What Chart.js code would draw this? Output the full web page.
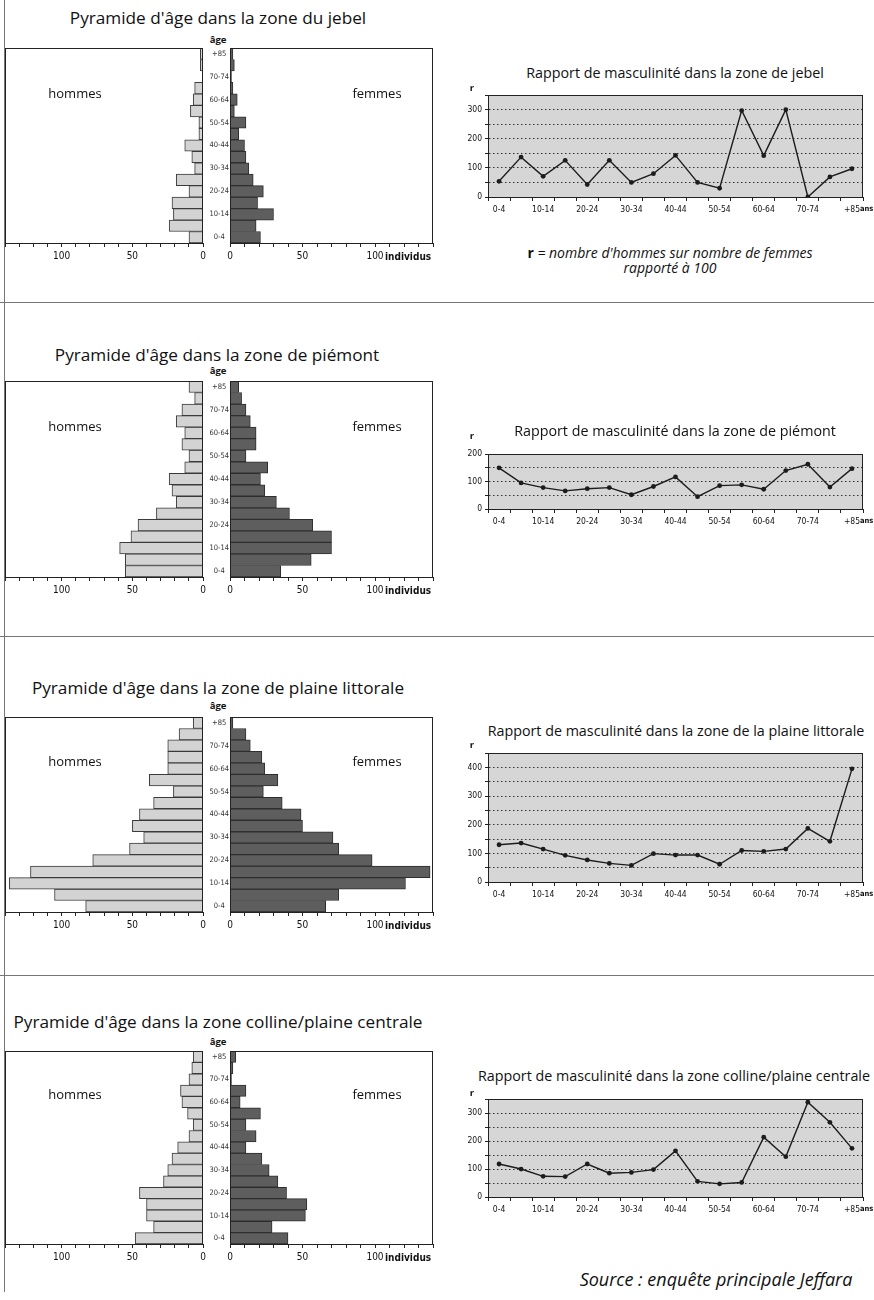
<!DOCTYPE html>
<html>
<head>
<meta charset="utf-8">
<script src="https://cdn.jsdelivr.net/npm/chart.js@4.4.1/dist/chart.umd.min.js"></script>
<style>
  body { margin: 0; background: #fff; }
  #page { position: relative; width: 874px; height: 1300px; overflow: hidden; font-family: 'Open Sans', 'Noto Sans', sans-serif; color: #111; }
  #page canvas { position: absolute; }
  .t { position: absolute; white-space: nowrap; line-height: 1; transform: translate(-50%, -50%); }
  .rule { position: absolute; background: #777; }
</style>
</head>
<body>
<div id="page"></div>
<script>
'use strict';

// tranches d'âge (de bas en haut)
var ages = ['0-4', '5-9', '10-14', '15-19', '20-24', '25-29', '30-34', '35-39', '40-44',
            '45-49', '50-54', '55-59', '60-64', '65-69', '70-74', '75-79', '+85'];

// zone du jebel
var jebelHommes  = [10, 24, 21, 22, 10, 19, 6, 8, 13, 3, 3, 9, 7, 6, 0, 2, 2];
var jebelFemmes  = [21, 18, 30, 19, 23, 16, 13, 11, 10, 6, 11, 3, 5, 2, 1, 3, 2];
var jebelRapport = [54, 137, 71, 126, 43, 126, 50, 80, 143, 50, 30, 297, 142, 300, 0, 69, 97];

// zone de piémont
var piemontHommes  = [55, 55, 59, 51, 46, 33, 19, 22, 24, 13, 10, 15, 13, 19, 15, 6, 10];
var piemontFemmes  = [35, 56, 70, 70, 57, 41, 32, 24, 21, 26, 11, 18, 18, 14, 11, 8, 6];
var piemontRapport = [150, 95, 78, 66, 74, 78, 52, 82, 117, 45, 85, 88, 72, 140, 163, 80, 147];

// plaine littorale
var littoralHommes  = [83, 105, 137, 122, 78, 52, 42, 50, 45, 35, 21, 38, 25, 25, 25, 17, 7];
var littoralFemmes  = [66, 75, 121, 138, 98, 75, 71, 50, 49, 36, 23, 33, 24, 22, 14, 11, 2];
var littoralRapport = [130, 136, 115, 93, 77, 65, 58, 99, 94, 94, 62, 110, 107, 115, 187, 142, 395];

// colline / plaine centrale
var centraleHommes  = [48, 35, 40, 40, 45, 28, 25, 22, 18, 10, 7, 11, 15, 16, 10, 8, 7];
var centraleFemmes  = [40, 29, 52, 53, 39, 33, 27, 22, 11, 18, 11, 21, 7, 11, 1, 2, 4];
var centraleRapport = [118, 100, 74, 73, 118, 85, 88, 98, 165, 56, 47, 52, 214, 144, 339, 267, 174];

var TICK_FONT = "'DejaVu Sans Condensed', 'Liberation Sans Narrow', 'Liberation Sans', sans-serif";
Chart.defaults.font.family = TICK_FONT;
Chart.defaults.color = '#111';
Chart.defaults.animation = false;
Chart.defaults.plugins.legend.display = false;
Chart.defaults.plugins.tooltip.enabled = false;

var page = document.getElementById('page');

function addCanvas(left, top, w, h) {
    var c = document.createElement('canvas');
    c.width = w;
    c.height = h;
    c.style.left = left + 'px';
    c.style.top = top + 'px';
    page.appendChild(c);
    return c;
}

function txt(html, x, y, css) {
    var d = document.createElement('div');
    d.className = 't';
    d.innerHTML = html;
    d.style.left = x + 'px';
    d.style.top = y + 'px';
    d.style.cssText += css || '';
    page.appendChild(d);
    return d;
}

function rule(x, y, w, h) {
    var d = document.createElement('div');
    d.className = 'rule';
    d.style.left = x + 'px';
    d.style.top = y + 'px';
    d.style.width = w + 'px';
    d.style.height = h + 'px';
    page.appendChild(d);
}

// fond gris (sous la grille) + cadre autour de la zone de tracé
var framePlugin = {
    id: 'frame',
    beforeDraw: function(chart, args, opts) {
        if (!opts.fill) return;
        var a = chart.chartArea, ctx = chart.ctx;
        ctx.save();
        ctx.fillStyle = opts.fill;
        ctx.fillRect(a.left, a.top, a.right - a.left, a.bottom - a.top);
        ctx.restore();
    },
    afterDraw: function(chart, args, opts) {
        var a = chart.chartArea, ctx = chart.ctx;
        ctx.save();
        ctx.strokeStyle = opts.color || '#222';
        ctx.lineWidth = 1;
        ctx.strokeRect(Math.round(a.left) + 0.5, Math.round(a.top) + 0.5,
                       Math.round(a.right - a.left) - 1, Math.round(a.bottom - a.top));
        ctx.restore();
    }
};

// petit texte en gras après une graduation ("individus", "ans")
var suffixPlugin = {
    id: 'suffix',
    afterDraw: function(chart, args, opts) {
        if (!opts.text) return;
        var sc = chart.scales.x, ctx = chart.ctx;
        var x = sc.getPixelForValue(opts.value);
        ctx.save();
        ctx.font = 'bold ' + opts.size + 'px ' + TICK_FONT;
        ctx.fillStyle = '#111';
        ctx.textAlign = 'left';
        ctx.textBaseline = 'middle';
        ctx.fillText(opts.text, x + opts.dx, chart.chartArea.bottom + opts.dy);
        ctx.restore();
    }
};

function pyramidX(rev) {
    return {
        type: 'linear', min: 0, max: 140, reverse: rev,
        afterFit: function(s) { s.height = 24; },
        ticks: {
            stepSize: 10, autoSkip: false, maxRotation: 0, padding: 3,
            font: { size: 10 },
            callback: function(v) { return v % 50 === 0 ? v : ''; }
        },
        grid: { drawOnChartArea: false, tickLength: 4, color: '#222' },
        border: { color: '#222' }
    };
}

function pyramid(top, bottom, hommes, femmes) {
    var h = bottom - top + 6 + 24;

    new Chart(addCanvas(0, top - 6, 209, h), {
        type: 'bar',
        data: {
            labels: ages,
            datasets: [{
                data: hommes, backgroundColor: '#d3d3d3', borderColor: '#3a3a3a',
                borderWidth: 1, barPercentage: 1, categoryPercentage: 1
            }]
        },
        options: {
            indexAxis: 'y', responsive: false,
            layout: { padding: { top: 6, left: 5, right: 2, bottom: 0 } },
            scales: {
                x: pyramidX(true),
                y: { reverse: true, display: false }
            },
            plugins: { frame: {} }
        },
        plugins: [framePlugin]
    });

    new Chart(addCanvas(207, top - 6, 240, h), {
        type: 'bar',
        data: {
            labels: ages,
            datasets: [{
                data: femmes, backgroundColor: '#5e5e5e', borderColor: '#2e2e2e',
                borderWidth: 1, barPercentage: 1, categoryPercentage: 1
            }]
        },
        options: {
            indexAxis: 'y', responsive: false,
            layout: { padding: { top: 6, left: 0, right: 14, bottom: 0 } },
            scales: {
                x: pyramidX(false),
                y: {
                    reverse: true,
                    afterFit: function(s) { s.width = 23; },
                    grid: { display: false, drawTicks: false },
                    border: { display: true, color: '#222' },
                    ticks: {
                        autoSkip: false, padding: 1, crossAlign: 'center',
                        font: { size: 7.5 }, color: '#333',
                        callback: function(v, i) { return i % 2 === 0 ? ages[i] : ''; }
                    }
                }
            },
            plugins: {
                frame: {},
                suffix: { text: 'individus', value: 100, dx: 10, dy: 14, size: 10 }
            }
        },
        plugins: [framePlugin, suffixPlugin]
    });
}

function rapport(top, bottom, max, values) {
    var h = bottom - top + 6 + 22;
    new Chart(addCanvas(440, top - 6, 434, h), {
        type: 'line',
        data: {
            labels: ages,
            datasets: [{
                data: values, borderColor: '#1c1c1c', borderWidth: 1.4,
                pointRadius: 2.4, pointBackgroundColor: '#1c1c1c', pointBorderWidth: 0,
                tension: 0
            }]
        },
        options: {
            responsive: false,
            layout: { padding: { top: 6, right: 11, left: 0, bottom: 0 } },
            scales: {
                x: {
                    offset: true,
                    afterFit: function(s) { s.height = 22; },
                    grid: { offset: true, drawOnChartArea: false, tickLength: 4, color: '#222' },
                    border: { color: '#222' },
                    ticks: {
                        autoSkip: false, maxRotation: 0, padding: 4, font: { size: 8.5 },
                        callback: function(v, i) { return i % 2 === 0 ? ages[i] : ''; }
                    }
                },
                y: {
                    min: 0, max: max,
                    afterFit: function(s) { s.width = 48; },
                    ticks: {
                        stepSize: 50, padding: 3, font: { size: 8.5 },
                        callback: function(v) { return v % 100 === 0 ? v : ''; }
                    },
                    grid: {
                        color: function(c) {
                            return (c.tick && (c.tick.value === 0 || c.tick.value === max)) ? 'rgba(0,0,0,0)' : '#333';
                        },
                        tickColor: '#222', tickLength: 3
                    },
                    border: { color: '#222', dash: [1.5, 2.5] }
                }
            },
            plugins: {
                frame: { fill: '#d6d6d6' },
                suffix: { text: 'ans', value: 16, dx: 8, dy: 12, size: 7.5 }
            }
        },
        plugins: [framePlugin, suffixPlugin]
    });
}

// cadre de page et séparateurs
rule(4, 0, 1, 1292);
rule(0, 302, 874, 1);
rule(0, 636, 874, 1);
rule(0, 975, 874, 1);

var PT = 'font-size:17.2px;';
var LT = 'font-size:14.3px;';
var SX = 'font-size:13px;';
var AG = 'font-size:9.5px;font-weight:bold;';

// 1. jebel
txt("Pyramide d'âge dans la zone du jebel", 218, 18, PT);
txt('âge', 218, 40, AG);
pyramid(48, 243, jebelHommes, jebelFemmes);
txt('hommes', 75, 93, SX);
txt('femmes', 377, 93, SX);
txt('Rapport de masculinité dans la zone de jebel', 675, 73, LT);
txt('r', 472, 88, AG);
rapport(93, 197, 350, jebelRapport);
txt('<b style="font-style:normal">r</b> = nombre d\'hommes sur nombre de femmes', 670, 253, 'font-size:14px;font-style:italic;');
txt('rapporté à 100', 670, 268, 'font-size:14px;font-style:italic;');

// 2. piémont
txt("Pyramide d'âge dans la zone de piémont", 217, 355, PT);
txt('âge', 218, 371, AG);
pyramid(381, 577, piemontHommes, piemontFemmes);
txt('hommes', 75, 426, SX);
txt('femmes', 377, 426, SX);
txt('Rapport de masculinité dans la zone de piémont', 675, 431, LT);
txt('r', 472, 436, AG);
rapport(452, 509, 200, piemontRapport);

// 3. plaine littorale
txt("Pyramide d'âge dans la zone de plaine littorale", 218, 688, PT);
txt('âge', 218, 706, AG);
pyramid(717, 912, littoralHommes, littoralFemmes);
txt('hommes', 75, 761, SX);
txt('femmes', 377, 761, SX);
txt('Rapport de masculinité dans la zone de la plaine littorale', 676, 731, LT);
txt('r', 472, 745, AG);
rapport(751, 882, 450, littoralRapport);

// 4. colline / plaine centrale
txt("Pyramide d'âge dans la zone colline/plaine centrale", 218, 1022, PT);
txt('âge', 218, 1042, AG);
pyramid(1051, 1244, centraleHommes, centraleFemmes);
txt('hommes', 75, 1094, SX);
txt('femmes', 377, 1094, SX);
txt('Rapport de masculinité dans la zone colline/plaine centrale', 674, 1076, LT);
txt('r', 472, 1093, AG);
rapport(1097, 1197, 350, centraleRapport);

txt('Source : enquête principale Jeffara', 716, 1279, 'font-size:18px;font-style:italic;');
</script>
</body>
</html>
